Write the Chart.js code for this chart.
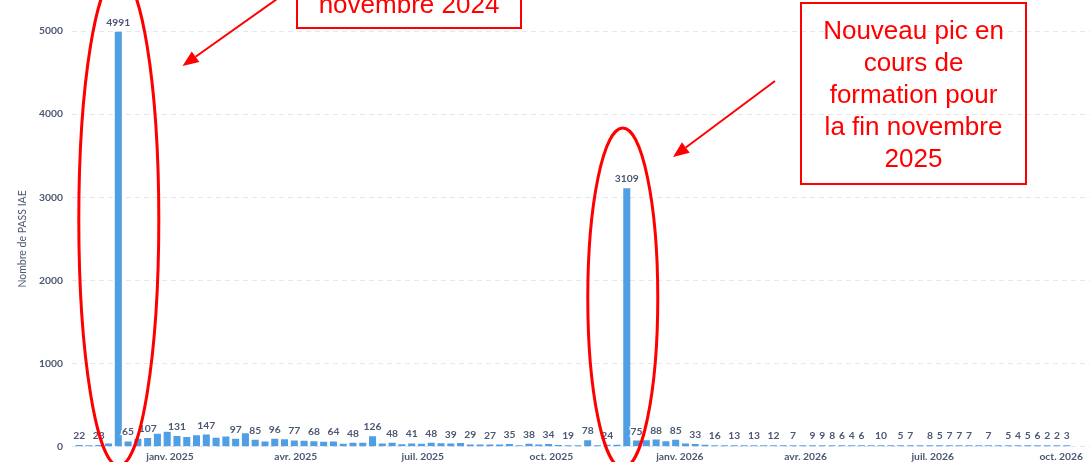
<!DOCTYPE html>
<html lang="fr">
<head>
<meta charset="utf-8">
<title>Nombre de PASS IAE par semaine</title>
<script src="https://cdn.jsdelivr.net/npm/chart.js"></script>
<style>
  html, body { margin: 0; padding: 0; background: #fff; }
  #wrap { width: 1090px; height: 462px; position: relative; }
</style>
</head>
<body>
<div id="wrap"><canvas id="passChart"></canvas></div>
<script>
// weeks (monday of each week)
var weeks = [
  '2024-10-28','2024-11-04','2024-11-11','2024-11-18','2024-11-25','2024-12-02','2024-12-09','2024-12-16','2024-12-23','2024-12-30',
  '2025-01-06','2025-01-13','2025-01-20','2025-01-27','2025-02-03','2025-02-10','2025-02-17','2025-02-24','2025-03-03','2025-03-10',
  '2025-03-17','2025-03-24','2025-03-31','2025-04-07','2025-04-14','2025-04-21','2025-04-28','2025-05-05','2025-05-12','2025-05-19',
  '2025-05-26','2025-06-02','2025-06-09','2025-06-16','2025-06-23','2025-06-30','2025-07-07','2025-07-14','2025-07-21','2025-07-28',
  '2025-08-04','2025-08-11','2025-08-18','2025-08-25','2025-09-01','2025-09-08','2025-09-15','2025-09-22','2025-09-29','2025-10-06',
  '2025-10-13','2025-10-20','2025-10-27','2025-11-03','2025-11-10','2025-11-17','2025-11-24','2025-12-01','2025-12-08','2025-12-15',
  '2025-12-22','2025-12-29','2026-01-05','2026-01-12','2026-01-19','2026-01-26','2026-02-02','2026-02-09','2026-02-16','2026-02-23',
  '2026-03-02','2026-03-09','2026-03-16','2026-03-23','2026-03-30','2026-04-06','2026-04-13','2026-04-20','2026-04-27','2026-05-04',
  '2026-05-11','2026-05-18','2026-05-25','2026-06-01','2026-06-08','2026-06-15','2026-06-22','2026-06-29','2026-07-06','2026-07-13',
  '2026-07-20','2026-07-27','2026-08-03','2026-08-10','2026-08-17','2026-08-24','2026-08-31','2026-09-07','2026-09-14','2026-09-21',
  '2026-09-28','2026-10-05'
];

// nombre de PASS IAE par semaine
var passCounts = [
  22, 8, 23, 40, 4991, 65, 98, 107, 158, 182,
  131, 118, 140, 147, 108, 124, 97, 162, 85, 64,
  96, 92, 77, 72, 68, 62, 64, 36, 48, 50,
  126, 40, 48, 32, 41, 38, 48, 42, 39, 45,
  29, 27, 27, 28, 35, 10, 38, 28, 34, 22,
  19, 20, 78, 18, 24, 25, 3109, 75, 80, 88,
  68, 85, 40, 33, 26, 16, 15, 13, 14, 13,
  10, 12, 8, 7, 10, 9, 9, 8, 6, 4,
  6, 10, 10, 6, 5, 7, 10, 8, 5, 7,
  7, 7, 10, 7, 10, 5, 4, 5, 6, 2,
  2, 3
];

var tickDates = ['2025-01-01','2025-04-01','2025-07-01','2025-10-01','2026-01-01','2026-04-01','2026-07-01','2026-10-01'];
var tickLabels = ['janv. 2025','avr. 2025','juil. 2025','oct. 2025','janv. 2026','avr. 2026','juil. 2026','oct. 2026'];
var yTicks = [0, 1000, 2000, 3000, 4000, 5000];

var DAY = 86400000;
var START = Date.UTC(2024, 9, 28);
function dayOf(s) {
    var p = s.split('-').map(Number);
    return (Date.UTC(p[0], p[1] - 1, p[2]) - START) / DAY;
}

var TEXT = '#4C5773';
var BLUE = '#509EE3';
var RED = '#FF0000';

// value labels above the bars, hidden when they would overlap a previous one
var valueLabels = {
    id: 'valueLabels',
    afterDatasetsDraw: function(chart) {
        var ctx = chart.ctx;
        var meta = chart.getDatasetMeta(0);
        var pad = 1.3;
        var shown = [];
        ctx.save();
        ctx.font = 'bold 10.3px Lato';
        ctx.textAlign = 'center';
        ctx.textBaseline = 'alphabetic';
        meta.data.forEach(function(bar, i) {
            var text = String(passCounts[i]);
            var w = ctx.measureText(text).width;
            var base = bar.y - 6;
            var box = { l: bar.x - w / 2 - pad, r: bar.x + w / 2 + pad, t: base - 8 - pad, b: base + 1 + pad };
            var hit = shown.some(function(s) {
                return s.l < box.r && box.l < s.r && s.t < box.b && box.t < s.b;
            });
            if (hit) return;
            shown.push(box);
            ctx.lineWidth = 3;
            ctx.strokeStyle = '#fff';
            ctx.strokeText(text, bar.x, base);
            ctx.fillStyle = TEXT;
            ctx.fillText(text, bar.x, base);
        });
        ctx.restore();
    }
};

function arrow(ctx, x1, y1, x2, y2) {
    var a = Math.atan2(y2 - y1, x2 - x1);
    var len = 16, hw = 6.5;
    var bx = x2 - len * Math.cos(a), by = y2 - len * Math.sin(a);
    ctx.beginPath();
    ctx.moveTo(x1, y1);
    ctx.lineTo(bx, by);
    ctx.stroke();
    ctx.beginPath();
    ctx.moveTo(x2, y2);
    ctx.lineTo(bx + hw * Math.sin(a), by - hw * Math.cos(a));
    ctx.lineTo(bx - hw * Math.sin(a), by + hw * Math.cos(a));
    ctx.closePath();
    ctx.fill();
}

// red callouts drawn over the chart
var callouts = {
    id: 'callouts',
    afterDraw: function(chart) {
        var ctx = chart.ctx;
        var xs = chart.scales.x, ys = chart.scales.y;
        ctx.save();
        ctx.strokeStyle = RED;
        ctx.fillStyle = RED;

        // ellipses round the two peaks
        ctx.lineWidth = 3;
        ctx.beginPath();
        ctx.ellipse(xs.getPixelForValue(dayOf('2024-11-25')) + 0.5, ys.getPixelForValue(2730), 40, 246, 0, 0, Math.PI * 2);
        ctx.stroke();
        ctx.beginPath();
        ctx.ellipse(xs.getPixelForValue(dayOf('2025-11-24')) - 4, ys.getPixelForValue(1790), 35, 170, 0, 0, Math.PI * 2);
        ctx.stroke();

        // boxes
        ctx.lineWidth = 2;
        ctx.strokeRect(297, -40, 224, 68);
        ctx.strokeRect(801, 3, 225, 181);

        ctx.font = '26px "Liberation Sans", Arial, sans-serif';
        ctx.textAlign = 'center';
        ctx.textBaseline = 'alphabetic';
        ctx.fillText('novembre 2024', 409, 13);
        var lines = ['Nouveau pic en', 'cours de', 'formation pour', 'la fin novembre', '2025'];
        lines.forEach(function(t, i) {
            ctx.fillText(t, 913.5, 39.3 + i * 31.85);
        });

        // arrows
        ctx.lineWidth = 2;
        arrow(ctx, 277, -1, 182.5, 66);
        arrow(ctx, 775, 81, 673, 157);
        ctx.restore();
    }
};

var chartEl = document.getElementById('passChart');
var myChart = new Chart(chartEl, {
    type: 'bar',
    data: {
        datasets: [{
            label: 'Nombre de PASS IAE',
            data: weeks.map(function(w, i) { return { x: dayOf(w), y: passCounts[i] }; }),
            backgroundColor: BLUE,
            borderWidth: 0,
            minBarLength: 1.6,
            barPercentage: 0.72,
            categoryPercentage: 1.0
        }]
    },
    options: {
        responsive: true,
        maintainAspectRatio: false,
        animation: false,
        layout: { padding: { top: 31, left: 0, right: 0, bottom: 0 } },
        plugins: {
            legend: { display: false },
            tooltip: { enabled: false }
        },
        scales: {
            x: {
                type: 'linear',
                min: -5.15,
                max: 723.6,
                offset: false,
                grid: { display: false, drawTicks: false },
                border: { display: false },
                afterBuildTicks: function(axis) {
                    axis.ticks = tickDates.map(function(d) { return { value: dayOf(d) }; });
                },
                afterFit: function(axis) { axis.height = 15; },
                ticks: {
                    autoSkip: false,
                    maxRotation: 0,
                    padding: 4,
                    color: TEXT,
                    font: { family: 'Lato', size: 10.3, weight: 'bold' },
                    callback: function(v, i) { return tickLabels[i]; }
                }
            },
            y: {
                min: 0,
                max: 5000,
                grid: { color: '#E6E7EA', lineWidth: 1, drawTicks: false },
                border: { display: false, dash: [5, 4] },
                afterBuildTicks: function(axis) {
                    axis.ticks = yTicks.map(function(v) { return { value: v }; });
                },
                afterFit: function(axis) { axis.width = 72; },
                ticks: {
                    padding: 9,
                    color: TEXT,
                    font: { family: 'Lato', size: 10.3, weight: 'bold' },
                    callback: function(v) { return String(v); }
                },
                title: {
                    display: true,
                    text: 'Nombre de PASS IAE',
                    color: TEXT,
                    font: { family: 'Lato', size: 10.5, weight: 'normal' },
                    padding: { top: 16, bottom: 0 }
                }
            }
        }
    },
    plugins: [valueLabels, callouts]
});
</script>
</body>
</html>
